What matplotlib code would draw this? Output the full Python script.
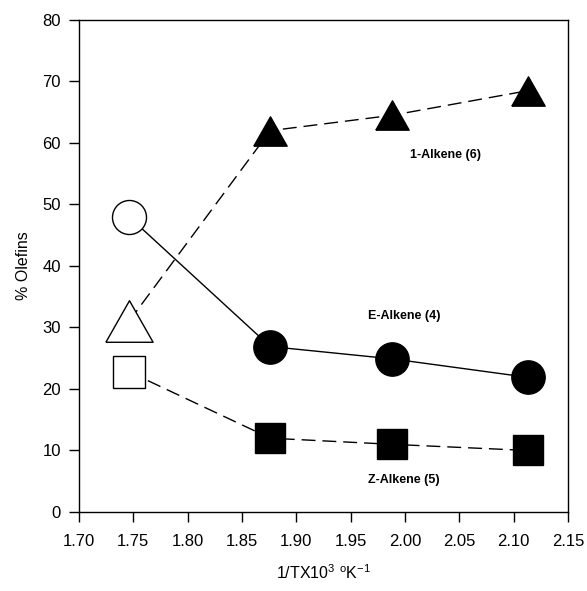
import matplotlib.pyplot as plt

plt.rcParams["font.family"] = ["Liberation Sans", "DejaVu Sans"]
plt.rcParams["mathtext.default"] = "regular"

inv_temp = [1.746, 1.876, 1.988, 2.113]
alkene_1 = [31.0, 62.0, 64.5, 68.5]
alkene_e = [48.0, 26.9, 24.9, 21.9]
alkene_z = [22.8, 12.0, 11.0, 10.0]

# slightly flattened triangle, like the one in the original figure
TRIANGLE = [(-1.0, -0.88), (1.0, -0.88), (0.0, 0.88), (-1.0, -0.88)]

series = [
    ("1-Alkene (6)", alkene_1, TRIANGLE, (10, 5), 24, 34, (2.037, 58.0)),
    ("E-Alkene (4)", alkene_e, "o", None, 24, 24.5, (1.999, 31.8)),
    ("Z-Alkene (5)", alkene_z, "s", (10, 5), 21.5, 22.5, (1.999, 5.2)),
]


def main() -> None:
    fig = plt.figure(figsize=(5.87, 5.91), dpi=100)
    ax = fig.add_axes([0.1346, 0.1337, 0.833, 0.8325])

    for label, values, marker, dashes, ms_filled, ms_open, text_pos in series:
        line, = ax.plot(inv_temp, values, color="black", linewidth=1.0, zorder=1)
        if dashes is not None:
            line.set_dashes(dashes)
        ax.plot(inv_temp[1:], values[1:], linestyle="none", marker=marker,
                markersize=ms_filled, markerfacecolor="black",
                markeredgecolor="black", zorder=3)
        ax.plot(inv_temp[:1], values[:1], linestyle="none", marker=marker,
                markersize=ms_open, markerfacecolor="white",
                markeredgecolor="black", markeredgewidth=1.0, zorder=3)
        ax.text(text_pos[0], text_pos[1], label, ha="center", va="center",
                fontsize=9, fontweight="bold")

    ax.set_xlim(1.70, 2.15)
    ax.set_ylim(0, 80)
    ax.set_xticks([1.70, 1.75, 1.80, 1.85, 1.90, 1.95, 2.00, 2.05, 2.10, 2.15])
    ax.set_xticklabels([f"{v:.2f}" for v in ax.get_xticks()])
    ax.set_yticks(range(0, 81, 10))
    ax.tick_params(direction="out", length=7, width=1, labelsize=12)
    ax.tick_params(axis="x", pad=9)
    ax.tick_params(axis="y", pad=6)
    for spine in ax.spines.values():
        spine.set_linewidth(1.0)

    ax.set_xlabel("1/TX10$^{3}$ $^{o}$K$^{-1}$", fontsize=11.5, labelpad=10)
    ax.set_ylabel("% Olefins", fontsize=11.5, labelpad=8)

    fig.savefig("out.png", dpi=100)
    plt.close(fig)


if __name__ == "__main__":
    main()
